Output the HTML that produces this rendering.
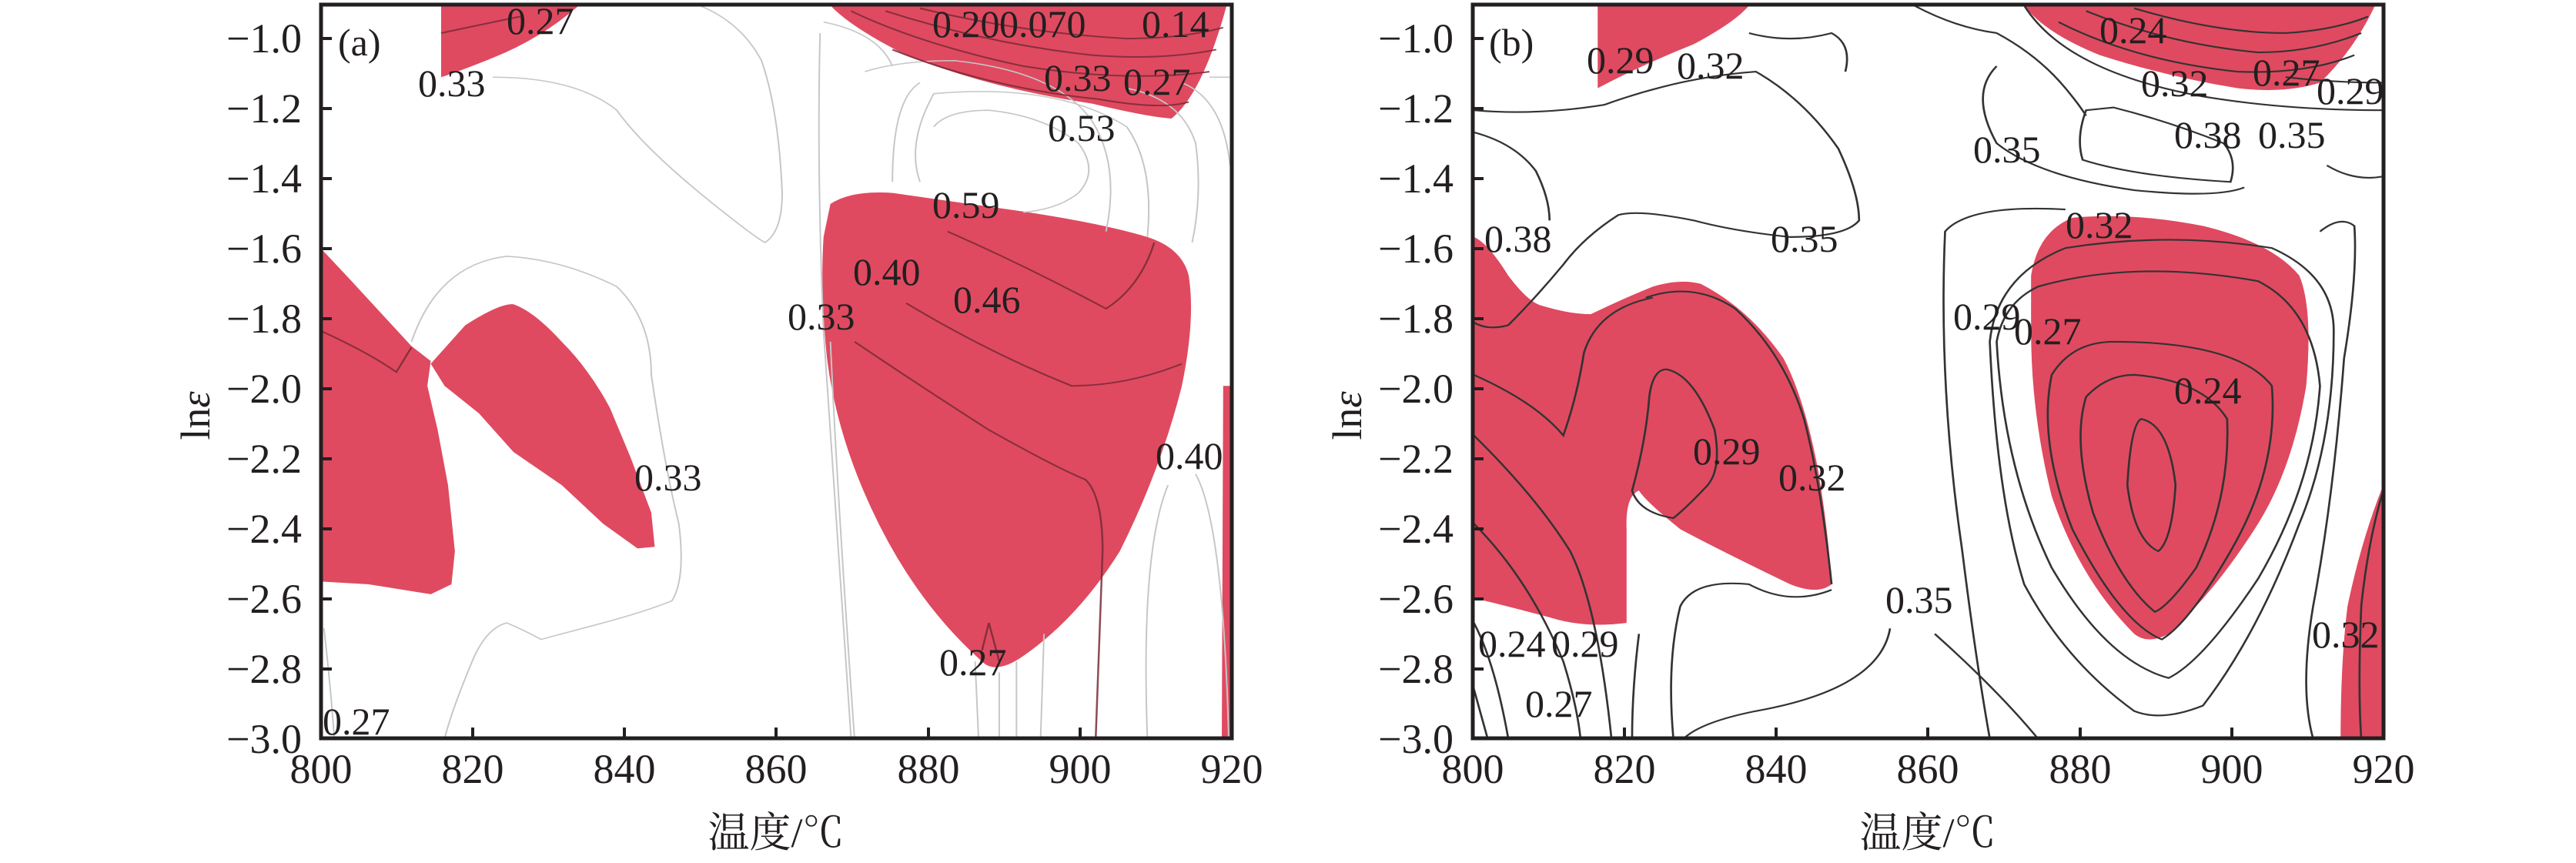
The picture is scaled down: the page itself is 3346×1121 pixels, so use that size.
<!DOCTYPE html>
<html><head><meta charset="utf-8"><style>
html,body{margin:0;padding:0;background:#fff;}
svg{display:block;}
text{font-family:"Liberation Serif","Noto Serif CJK SC",serif;fill:#231f20;}
.l{font-size:50px;}
.t{font-size:54px;}
</style></head><body>
<svg width="3346" height="1121" viewBox="0 0 3346 1121" xmlns="http://www.w3.org/2000/svg">
<defs>
<clipPath id="ca"><rect x="417" y="6" width="1183" height="953"/></clipPath>
<clipPath id="cb"><rect x="1913" y="6" width="1183" height="953"/></clipPath>
</defs>

<!-- Panel A -->
<g clip-path="url(#ca)">
<g transform="translate(300,0) scale(0.895,0.716)">
<g fill="#df4a60" stroke="none">
<path d="M305,10 L305,140 Q330,130 380,105 Q450,70 505,10 Z"/>
<path d="M870,10 Q900,50 980,100 Q1100,160 1250,188 Q1330,212 1365,215 Q1410,170 1445,10 Z"/>
<path d="M130,450 L175,510 L262,628 L290,655 L285,700 L300,780 L315,880 L325,1000 L320,1060 L290,1078 L200,1060 L130,1055 Z"/>
<path d="M290,660 L340,590 Q390,550 410,552 Q440,565 480,620 Q520,670 550,740 L580,830 L610,930 L615,992 L590,995 L540,950 L480,880 L410,820 L360,750 L310,700 Z"/>
<path d="M870,370 Q900,345 960,350 L1100,375 Q1250,400 1330,430 Q1380,450 1390,500 Q1400,580 1380,700 Q1350,850 1290,1000 Q1230,1120 1150,1190 Q1110,1225 1090,1200 Q1000,1100 940,950 Q880,800 865,650 Q855,530 860,430 Z"/>
<path d="M1440,700 L1452,700 L1452,1340 L1438,1340 Z"/>
</g>
<g fill="none" stroke="#c6c6c6" stroke-width="2.2" vector-effect="non-scaling-stroke">
<path d="M380,140 Q500,140 560,200 Q600,270 700,370 Q760,430 775,440 Q800,420 800,350 Q795,200 770,110 Q740,40 680,10"/>
<path d="M262,620 Q300,480 400,465 Q480,470 560,520 Q610,580 610,680 Q630,850 650,950 Q660,1050 640,1090 Q600,1110 540,1130 Q480,1150 450,1160 Q420,1140 400,1130 Q370,1140 350,1200 Q320,1290 310,1340"/>
<path d="M135,1140 Q145,1250 150,1340"/>
<path d="M855,60 Q850,300 860,600 Q870,800 900,1340"/>
<path d="M870,620 Q880,900 905,1340"/>
<path d="M860,40 Q940,60 960,120"/>
<path d="M920,130 Q970,110 1050,110 Q1200,130 1250,220 Q1290,300 1270,420"/>
<path d="M1020,230 Q1040,200 1100,200 Q1180,210 1230,260 Q1260,310 1230,350 Q1200,380 1150,385"/>
<path d="M1000,330 Q980,260 1020,170 Q1200,150 1300,230 Q1340,300 1330,430"/>
<path d="M960,330 Q960,180 1000,150"/>
<path d="M1300,160 Q1380,180 1400,260 Q1410,350 1395,440"/>
<path d="M1380,150 Q1440,180 1450,300"/>
<path d="M1360,880 Q1320,1000 1330,1340"/>
<path d="M1400,860 Q1440,950 1448,1340"/>
<path d="M1080,1200 L1085,1340 M1115,1220 L1115,1340 M1180,1150 L1175,1340 M1140,1200 L1140,1340"/>
<path d="M1420,140 L1452,140"/>
</g>
<g fill="none" stroke="#7a2a36" stroke-width="2.8" vector-effect="non-scaling-stroke" opacity="0.85">
<path d="M905,620 Q1000,700 1100,780 Q1200,850 1240,870 Q1265,900 1265,1000 L1255,1340"/>
<path d="M980,550 Q1100,640 1220,700 Q1300,700 1380,660"/>
<path d="M1040,420 Q1150,480 1270,560 Q1320,520 1340,440"/>
<path d="M1090,1180 L1100,1130 L1115,1200"/>
<path d="M130,600 Q200,640 240,675 L262,630"/>
<path d="M305,60 Q380,40 420,30"/>
<path d="M900,20 Q1000,80 1150,120 Q1300,150 1420,130"/>
<path d="M950,20 Q1100,80 1250,100 Q1350,110 1430,90"/>
<path d="M1000,15 Q1150,60 1300,70 Q1380,70 1440,50"/>
<path d="M960,90 Q1100,160 1260,180 Q1350,200 1390,185"/>
</g>
</g>
</g>
<rect x="417" y="6" width="1183" height="953" fill="none" stroke="#231f20" stroke-width="5"/>
<g stroke="#231f20" stroke-width="4">
<path d="M417,50h14M417,141h14M417,232h14M417,323h14M417,414h14M417,505h14M417,596h14M417,687h14M417,778h14M417,869h14"/>
<path d="M614,959v-14M811,959v-14M1008,959v-14M1206,959v-14M1403,959v-14"/>
</g>
<g class="t" text-anchor="end">
<text x="392" y="68">−1.0</text><text x="392" y="159">−1.2</text><text x="392" y="250">−1.4</text><text x="392" y="341">−1.6</text><text x="392" y="432">−1.8</text><text x="392" y="523">−2.0</text><text x="392" y="614">−2.2</text><text x="392" y="705">−2.4</text><text x="392" y="796">−2.6</text><text x="392" y="887">−2.8</text><text x="392" y="978">−3.0</text>
</g>
<g class="t" text-anchor="middle">
<text x="417" y="1017">800</text><text x="614" y="1017">820</text><text x="811" y="1017">840</text><text x="1008" y="1017">860</text><text x="1206" y="1017">880</text><text x="1403" y="1017">900</text><text x="1600" y="1017">920</text>
<text x="1008" y="1100">温度/℃</text>
</g>
<text class="t" transform="translate(272,540) rotate(-90)" text-anchor="middle">ln<tspan font-style="italic">ε</tspan></text>
<g class="l">
<text x="439" y="72">(a)</text>
<text x="658" y="44">0.27</text><text x="543" y="125">0.33</text>
<text x="1211" y="48">0.20</text><text x="1298" y="48">0.070</text><text x="1483" y="48">0.14</text>
<text x="1356" y="118">0.33</text><text x="1459" y="123">0.27</text>
<text x="1361" y="183">0.53</text><text x="1211" y="283">0.59</text>
<text x="1108" y="370">0.40</text><text x="1238" y="406">0.46</text><text x="1023" y="428">0.33</text>
<text x="824" y="637">0.33</text><text x="1501" y="609">0.40</text>
<text x="1220" y="877">0.27</text><text x="419" y="954">0.27</text>
</g>

<!-- Panel B -->
<g clip-path="url(#cb)">
<g transform="translate(1700,0) scale(0.8935,0.716)">
<g fill="#df4a60" stroke="none">
<path d="M420,10 L420,160 Q480,120 560,80 Q620,40 640,10 Z"/>
<path d="M1040,10 Q1070,60 1150,100 Q1250,140 1350,160 Q1420,170 1470,150 Q1520,90 1550,10 Z"/>
<path d="M240,430 Q260,440 290,500 Q320,550 340,555 Q380,570 410,570 Q460,540 500,520 Q540,505 570,515 Q640,560 690,650 Q720,720 740,850 Q755,960 760,1060 Q740,1080 700,1060 Q600,1000 540,960 Q490,910 480,890 Q460,900 462,960 L462,1130 Q400,1140 350,1120 Q290,1100 240,1085 Z"/>
<path d="M1050,500 Q1060,420 1110,395 Q1200,385 1300,410 Q1400,440 1440,500 Q1460,560 1450,700 Q1430,850 1380,950 Q1320,1070 1250,1150 Q1220,1170 1200,1150 Q1120,1050 1080,900 Q1050,750 1050,600 Z"/>
<path d="M1562,880 Q1530,980 1510,1100 Q1500,1200 1500,1340 L1562,1340 Z"/>
</g>
<g fill="none" stroke="#333" stroke-width="3" vector-effect="non-scaling-stroke">
<path d="M240,200 Q330,210 430,190 Q540,140 650,130 Q720,180 770,270 Q800,350 800,400 Q780,430 700,430 Q620,420 560,400 Q480,380 450,390 Q400,430 370,480 Q330,540 290,590 Q260,600 240,585"/>
<path d="M240,240 Q300,260 330,310 Q350,360 350,400"/>
<path d="M880,10 Q940,50 1000,60 Q1060,100 1100,160 Q1120,190 1130,210"/>
<path d="M640,60 Q700,80 760,60 Q790,80 780,130"/>
<path d="M1130,200 Q1115,250 1125,290 Q1200,320 1340,330 Q1350,290 1330,260 Q1250,220 1170,195 Z"/>
<path d="M1000,120 Q960,170 1000,260 Q1060,320 1200,345 Q1320,360 1360,340"/>
<path d="M1040,10 Q1100,130 1300,175 Q1420,200 1562,200"/>
<path d="M1480,300 Q1520,330 1562,320"/>
<path d="M1090,40 Q1200,110 1350,130 Q1450,135 1520,100"/>
<path d="M1130,20 Q1250,80 1380,95 Q1460,95 1530,60"/>
<path d="M1200,15 Q1320,60 1420,60 Q1490,55 1540,30"/>
<path d="M1420,140 Q1490,150 1562,150"/>
<path d="M1210,760 Q1250,770 1260,880 Q1255,980 1235,1000 Q1200,980 1190,880 Q1195,770 1210,760Z"/>
<path d="M1200,680 Q1300,690 1335,760 Q1340,900 1290,1030 Q1250,1100 1230,1110 Q1180,1060 1140,930 Q1110,800 1130,720 Q1160,680 1200,680Z"/>
<path d="M1170,620 Q1350,620 1400,700 Q1410,850 1340,1000 Q1280,1130 1240,1160 Q1180,1130 1110,960 Q1060,800 1080,680 Q1110,620 1170,620Z"/>
<path d="M1060,520 Q1200,470 1380,510 Q1460,560 1470,700 Q1460,880 1380,1050 Q1300,1200 1250,1230 Q1160,1200 1080,1030 Q1010,850 1000,620 Q1010,550 1060,520Z"/>
<path d="M990,620 Q1000,500 1100,450 Q1250,420 1400,450 Q1490,500 1490,600 Q1490,800 1440,950 Q1380,1150 1300,1280 Q1240,1310 1200,1290 Q1100,1200 1040,1060 Q1000,900 990,620Z"/>
<path d="M1100,380 Q960,370 925,420 Q915,700 950,1000 Q970,1200 990,1340"/>
<path d="M1470,420 Q1500,390 1520,410 Q1525,500 1505,650 Q1490,900 1460,1100 Q1440,1250 1460,1340"/>
<path d="M910,1150 Q1000,1250 1060,1340"/>
<path d="M845,1140 Q830,1250 650,1290 Q570,1310 545,1340"/>
<path d="M240,950 Q320,1050 370,1200 Q390,1280 395,1340"/>
<path d="M240,1130 Q270,1200 290,1340"/>
<path d="M240,1250 L260,1340"/>
<path d="M240,790 Q330,900 380,1000 Q420,1100 440,1340"/>
<path d="M240,680 Q330,730 370,790 Q390,720 400,640 Q420,560 500,540"/>
<path d="M520,670 Q560,680 590,780 Q600,850 580,880 Q550,920 530,940 Q480,930 470,890 Q490,800 495,720 Q500,670 520,670Z"/>
<path d="M490,540 Q560,510 620,560 Q690,640 720,760 Q745,880 760,1060"/>
<path d="M480,1150 Q470,1250 470,1340"/>
<path d="M760,1070 Q700,1100 640,1060 Q560,1050 540,1100 Q520,1200 530,1340"/>
<path d="M1562,890 Q1540,980 1530,1100 Q1525,1250 1530,1340"/>
</g>
</g>
</g>
<rect x="1913" y="6" width="1183" height="953" fill="none" stroke="#231f20" stroke-width="5"/>
<g stroke="#231f20" stroke-width="4">
<path d="M1913,50h14M1913,141h14M1913,232h14M1913,323h14M1913,414h14M1913,505h14M1913,596h14M1913,687h14M1913,778h14M1913,869h14"/>
<path d="M2110,959v-14M2307,959v-14M2504,959v-14M2702,959v-14M2899,959v-14"/>
</g>
<g class="t" text-anchor="end">
<text x="1888" y="68">−1.0</text><text x="1888" y="159">−1.2</text><text x="1888" y="250">−1.4</text><text x="1888" y="341">−1.6</text><text x="1888" y="432">−1.8</text><text x="1888" y="523">−2.0</text><text x="1888" y="614">−2.2</text><text x="1888" y="705">−2.4</text><text x="1888" y="796">−2.6</text><text x="1888" y="887">−2.8</text><text x="1888" y="978">−3.0</text>
</g>
<g class="t" text-anchor="middle">
<text x="1913" y="1017">800</text><text x="2110" y="1017">820</text><text x="2307" y="1017">840</text><text x="2504" y="1017">860</text><text x="2702" y="1017">880</text><text x="2899" y="1017">900</text><text x="3096" y="1017">920</text>
<text x="2504" y="1100">温度/℃</text>
</g>
<text class="t" transform="translate(1768,540) rotate(-90)" text-anchor="middle">ln<tspan font-style="italic">ε</tspan></text>
<g class="l">
<text x="1934" y="72">(b)</text>
<text x="2061" y="95">0.29</text><text x="2178" y="102">0.32</text>
<text x="2727" y="56">0.24</text><text x="2781" y="125">0.32</text><text x="2926" y="111">0.27</text><text x="3009" y="135">0.29</text>
<text x="2824" y="192">0.38</text><text x="2933" y="192">0.35</text><text x="2563" y="211">0.35</text>
<text x="2300" y="327">0.35</text><text x="1928" y="327">0.38</text><text x="2683" y="309">0.32</text>
<text x="2537" y="428">0.29</text><text x="2616" y="447">0.27</text><text x="2824" y="524">0.24</text>
<text x="2199" y="603">0.29</text><text x="2310" y="637">0.32</text><text x="2449" y="796">0.35</text>
<text x="3003" y="841">0.32</text><text x="1920" y="853">0.24</text><text x="2015" y="853">0.29</text>
<text x="1981" y="931">0.27</text>
</g>
</svg>
</body></html>
